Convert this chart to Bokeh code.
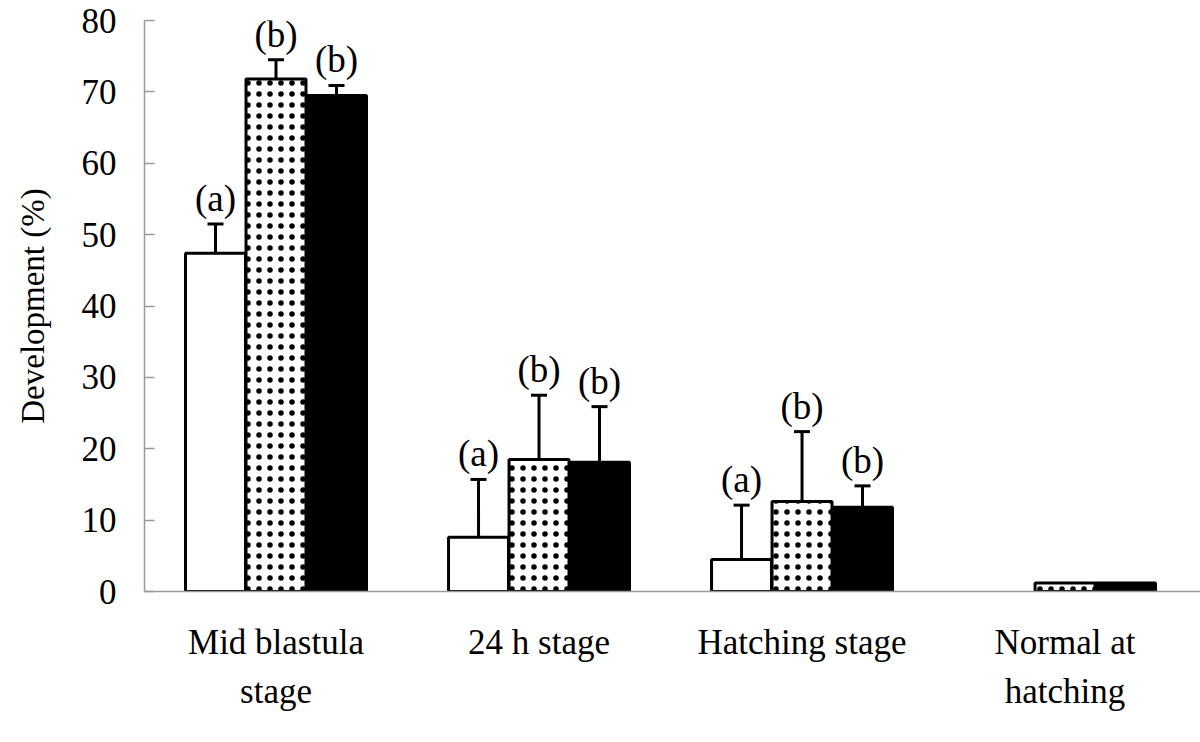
from bokeh.plotting import figure
from bokeh.models import ColumnDataSource, Range1d, FixedTicker, Whisker, TeeHead
from bokeh.core.properties import value
from bokeh.embed import file_html
from bokeh.resources import INLINE

categories = ["Mid blastula\nstage", "24 h stage", "Hatching stage", "Normal at\nhatching"]
series = ["white", "dotted", "black"]
white = [47.4, 7.6, 4.5, 0.0]
dotted = [71.8, 18.5, 12.6, 1.2]
black = [69.5, 18.1, 11.8, 1.2]
err_white = [4.1, 8.1, 7.6, 0.0]
err_dotted = [2.7, 9.0, 9.8, 0.0]
err_black = [1.4, 7.8, 3.0, 0.0]
letters_white = ["(a)", "(a)", "(a)", ""]
letters_dotted = ["(b)", "(b)", "(b)", ""]
letters_black = ["(b)", "(b)", "(b)", ""]

FONT = "Liberation Serif"
BW = 0.228
offsets = {"white": -0.23, "dotted": 0.0, "black": 0.23}

p = figure(width=1200, height=742, output_backend="svg", toolbar_location=None,
           x_range=Range1d(0, 4.015), y_range=Range1d(0, 80),
           min_border_left=144, min_border_right=0, min_border_top=20, min_border_bottom=151)
p.outline_line_color = None
p.grid.visible = False
p.background_fill_color = "white"
p.border_fill_color = "white"

data = {"white": (white, err_white, letters_white),
        "dotted": (dotted, err_dotted, letters_dotted),
        "black": (black, err_black, letters_black)}

for s in series:
    vals, errs, lets = data[s]
    xs, ys, es, ls = [], [], [], []
    for i, (v, e, l) in enumerate(zip(vals, errs, lets)):
        if v > 0:
            xs.append(i + 0.5 + offsets[s]); ys.append(v); es.append(e); ls.append(l)
    src = ColumnDataSource(dict(x=xs, top=ys))
    kw = dict(x="x", top="top", bottom=0, width=BW, source=src, line_color="black", line_width=3)
    if s == "white":
        p.vbar(fill_color="white", **kw)
    elif s == "dotted":
        p.vbar(fill_color="white", hatch_pattern="dot", hatch_color="black",
               hatch_scale=11, hatch_weight=1.4, **kw)
    else:
        p.vbar(fill_color="black", **kw)
    esrc = ColumnDataSource(dict(x=[x for x, e in zip(xs, es) if e > 0],
                                 base=[t for t, e in zip(ys, es) if e > 0],
                                 up=[t + e for t, e in zip(ys, es) if e > 0],
                                 lab=[l for l, e in zip(ls, es) if e > 0]))
    w = Whisker(source=esrc, base="x", lower="base", upper="up", dimension="height",
                line_color="black", line_width=3, lower_head=None,
                upper_head=TeeHead(size=16, line_width=3, line_color="black"))
    p.add_layout(w)
    p.text(x="x", y="up", text="lab", source=esrc, text_align="center", text_baseline="bottom",
           y_offset=-5, text_font=value(FONT), text_font_size="37px", text_color="black")

p.xaxis.ticker = FixedTicker(ticks=[i + 0.5 for i in range(len(categories))])
p.xaxis.major_label_overrides = {i + 0.5: c for i, c in enumerate(categories)}
p.xaxis.major_tick_line_color = None
p.xaxis.minor_tick_line_color = None
p.xaxis.axis_line_color = "#9a9a9a"
p.xaxis.axis_line_width = 1.5
p.xaxis.major_label_text_font = FONT
p.xaxis.major_label_text_font_size = "35px"
p.xaxis.major_label_text_color = "black"
p.xaxis.major_label_standoff = 25
p.xaxis.major_label_text_line_height = 1.28

p.yaxis.ticker = FixedTicker(ticks=list(range(0, 81, 10)))
p.yaxis.minor_tick_line_color = None
p.yaxis.major_tick_in = 10
p.yaxis.major_tick_out = 0
p.yaxis.major_tick_line_color = "#9a9a9a"
p.yaxis.major_tick_line_width = 1.5
p.yaxis.axis_line_color = "#9a9a9a"
p.yaxis.axis_line_width = 1.5
p.yaxis.major_label_text_font = FONT
p.yaxis.major_label_text_font_size = "35px"
p.yaxis.major_label_text_color = "black"
p.yaxis.major_label_standoff = 28
p.yaxis.axis_label = "Development (%)"
p.yaxis.axis_label_text_font = FONT
p.yaxis.axis_label_text_font_size = "33px"
p.yaxis.axis_label_text_font_style = "normal"
p.yaxis.axis_label_text_color = "black"
p.yaxis.axis_label_standoff = 28

open("out.html", "w").write(file_html(p, INLINE))
